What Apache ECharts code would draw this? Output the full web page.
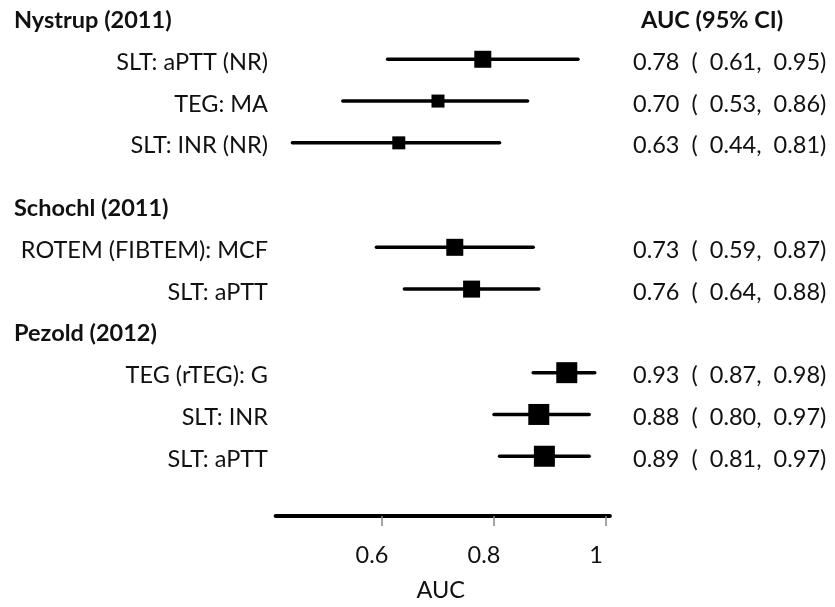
<!DOCTYPE html>
<html>
<head>
<meta charset="utf-8">
<script src="https://cdn.jsdelivr.net/npm/echarts@6/dist/echarts.min.js"></script>
<style>
  html, body { margin: 0; padding: 0; background: #fff; }
  #chart { width: 835px; height: 607px; }
</style>
</head>
<body>
<div id="chart"></div>
<script>
// Study groups and the diagnostic tests reported in each
const studies = ['Nystrup (2011)', 'Schochl (2011)', 'Pezold (2012)'];
const tests = ['SLT: aPTT (NR)', 'TEG: MA', 'SLT: INR (NR)', 'ROTEM (FIBTEM): MCF', 'SLT: aPTT', 'TEG (rTEG): G', 'SLT: INR', 'SLT: aPTT'];
const testStudy = [0, 0, 0, 1, 1, 2, 2, 2];
// Area under the ROC curve with 95% confidence limits
const auc = [0.78, 0.70, 0.63, 0.73, 0.76, 0.93, 0.88, 0.89];
const lower = [0.61, 0.53, 0.44, 0.59, 0.64, 0.87, 0.80, 0.81];
const upper = [0.95, 0.86, 0.81, 0.87, 0.88, 0.98, 0.97, 0.97];
// Axis ticks
const xTicks = [0.6, 0.8, 1];
const xTickLabels = ['0.6', '0.8', '1'];

// ---- layout / style ----
const FONT = 'Lato';
const FS = 23.5;
const boxSize = [17, 13, 13, 17, 17, 21, 21, 21];
const groupGap = [0, 1, 0];        // extra half-rows before each group
const labelRight = 268;            // right edge of test labels
const headerLeft = 14;             // left edge of study headers
const statLeft = 633;              // left edge of the AUC (95% CI) column
const textDy = 3;

// rows are stacked in half-row slots
const headerSlot = [];
const testSlot = [];
(function () {
  let s = 0;
  studies.forEach(function (name, g) {
    s += groupGap[g];
    headerSlot.push(s);
    s += 2;
    tests.forEach(function (t, i) {
      if (testStudy[i] === g) { testSlot[i] = s; s += 2; }
    });
  });
})();

const fmt = function (v) { return v.toFixed(2); };
const statText = auc.map(function (a, i) {
  return fmt(a) + '  (  ' + fmt(lower[i]) + ',  ' + fmt(upper[i]) + ')';
});

const chart = echarts.init(document.getElementById('chart'), null, { renderer: 'canvas' });

chart.setOption({
  animation: false,
  grid: { left: 275.6, right: 225.1, top: 0, bottom: 76, containLabel: false },
  xAxis: {
    type: 'value',
    position: 'bottom',
    min: 0.41,
    max: 1.007,
    name: 'AUC',
    nameLocation: 'middle',
    nameGap: 62,
    nameTextStyle: { fontFamily: FONT, fontSize: FS, color: '#111', padding: [0, 4, 0, 0] },
    axisLine: { show: true, onZero: false, lineStyle: { color: '#000', width: 4, cap: 'round' } },
    axisTick: { show: true, length: 10, customValues: xTicks, lineStyle: { color: '#888', width: 1.5 } },
    axisLabel: {
      margin: 27,
      customValues: xTicks,
      fontFamily: FONT, fontSize: FS, color: '#111',
      padding: [0, 20, 0, 0],
      formatter: function (v) {
        const k = xTicks.findIndex(function (t) { return Math.abs(t - v) < 1e-9; });
        return k >= 0 ? xTickLabels[k] : '';
      }
    },
    splitLine: { show: false }
  },
  yAxis: {
    type: 'value',
    inverse: true,
    min: -0.837,
    max: 23.86,
    show: false
  },
  series: [
    {
      // confidence interval whiskers, test labels and the statistics column
      type: 'custom',
      data: tests.map(function (t, i) { return [lower[i], upper[i], testSlot[i]]; }),
      encode: { x: [0, 1], y: 2 },
      renderItem: function (params, api) {
        const i = params.dataIndex;
        const p0 = api.coord([api.value(0), api.value(2)]);
        const p1 = api.coord([api.value(1), api.value(2)]);
        const y = p0[1];
        return {
          type: 'group',
          children: [
            {
              type: 'line',
              shape: { x1: p0[0], y1: y, x2: p1[0], y2: y },
              style: { stroke: '#000', lineWidth: 3.5, lineCap: 'round' }
            },
            {
              type: 'text',
              x: labelRight, y: y + textDy,
              style: { text: tests[i], fill: '#111', font: FS + 'px ' + FONT, align: 'right', verticalAlign: 'middle' }
            },
            {
              type: 'text',
              x: statLeft, y: y + textDy,
              style: { text: statText[i], fill: '#111', font: FS + 'px ' + FONT, align: 'left', verticalAlign: 'middle' }
            }
          ]
        };
      },
      z: 2
    },
    {
      // point estimates
      type: 'scatter',
      symbol: 'rect',
      data: auc.map(function (a, i) { return [a, testSlot[i]]; }),
      symbolSize: function (v, p) { return boxSize[p.dataIndex]; },
      itemStyle: { color: '#000', opacity: 1 },
      emphasis: { disabled: true },
      z: 3
    },
    {
      // study headers and the column title
      type: 'custom',
      data: studies.map(function (s, g) { return [0.6, headerSlot[g]]; }),
      encode: { x: 0, y: 1 },
      renderItem: function (params, api) {
        const g = params.dataIndex;
        const y = api.coord([0.6, api.value(1)])[1];
        const kids = [{
          type: 'text',
          x: headerLeft, y: y + textDy,
          style: { text: studies[g], fill: '#111', font: 'bold ' + FS + 'px ' + FONT, align: 'left', verticalAlign: 'middle' }
        }];
        if (g === 0) {
          kids.push({
            type: 'text',
            x: 641, y: y + textDy,
            style: { text: 'AUC (95% CI)', fill: '#111', font: 'bold ' + FS + 'px ' + FONT, align: 'left', verticalAlign: 'middle' }
          });
        }
        return { type: 'group', children: kids };
      }
    }
  ]
});
</script>
</body>
</html>
